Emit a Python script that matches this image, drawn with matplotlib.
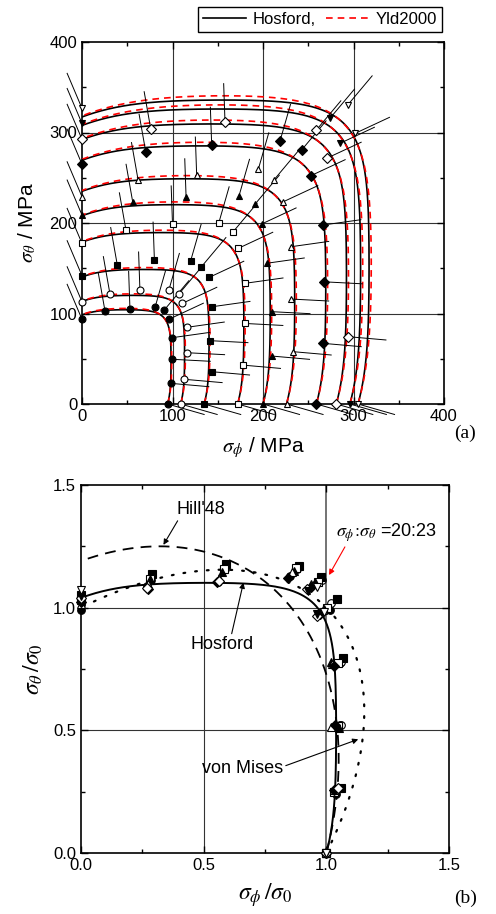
import numpy as np
import matplotlib
matplotlib.use('Agg')
import matplotlib.pyplot as plt
from matplotlib.lines import Line2D
from matplotlib.ticker import MultipleLocator

plt.rcParams['font.family'] = ['Liberation Sans', 'DejaVu Sans']
plt.rcParams['mathtext.fontset'] = 'stix'

# Niveles de trabajo plástico: tensión uniaxial sigma_0 (MPa) de cada nivel
niveles_s0 = [94.6, 109, 135, 172, 200, 226, 259, 281, 296, 305]

# Trayectorias de carga sigma_phi : sigma_theta
relaciones = ['0:1', '1:4', '1:2', '3:4', '20:23', '1:1', '4:3', '2:1', '4:1', '1:0']
# Ángulo (grados) de la dirección de deformación dibujada en cada trayectoria
angulos_def = [113, 100, 92, 74, 50, 25, 8, -3, -5, -16]

# Puntos experimentales por nivel (índice de trayectoria, sigma_phi, sigma_theta)
trayectorias = [
    [0, 1, 2, 3, 4, 5, 6, 7, 8, 9],
    [0, 1, 2, 3, 4, 5, 6, 7, 8, 9],
    [0, 1, 2, 3, 4, 5, 6, 7, 8, 9],
    [0, 1, 2, 3, 4, 5, 6, 7, 8, 9],
    [0, 1, 2, 3, 4, 5, 6, 7, 8, 9],
    [0, 1, 2, 3, 4, 5, 6, 7, 8, 9],
    [0, 1, 2, 3, 4, 5, 6, 7, 8, 9],
    [0, 1, 2, 4, 5, 8, 9],
    [0, 4, 5, 9],
    [0, 4, 5, 9],
]
puntos_phi = [
    [0, 25.4, 53, 80.7, 91, 96, 99.8, 99.8, 98.3, 94.6],
    [0, 30.9, 64, 96, 107, 110.9, 115.6, 115.6, 113, 109],
    [0, 39, 80, 120, 132, 140.7, 144, 141.4, 143.3, 135],
    [0, 48.6, 100, 151, 166.5, 172.7, 180.5, 180, 177.5, 172],
    [0, 56, 115, 173.5, 191, 198.5, 204, 210, 209.6, 200],
    [0, 62, 126.7, 194.8, 212, 222.5, 231, 230.6, 233.5, 226],
    [0, 70.4, 143.3, 218.8, 242.7, 252.7, 266.6, 267.8, 266.7, 259],
    [0, 76, 158, 259, 270.4, 294, 281],
    [0, 274, 285, 296],
    [0, 293.6, 301.7, 305],
]
puntos_theta = [
    [93.6, 102.8, 104.6, 106.8, 104, 93.6, 73.3, 49.4, 22.8, 0],
    [113, 121.5, 126, 126, 121.5, 111.2, 84.7, 56.7, 27.3, 0],
    [141.8, 153.6, 159, 158, 151.7, 140, 107.5, 70, 35.7, 0],
    [177.5, 192, 199, 199.6, 189.7, 172, 133.4, 89, 43, 0],
    [208.8, 223.5, 229, 230, 220.6, 198.9, 155.5, 102, 53, 0],
    [229, 247.5, 253, 259.3, 247.5, 223.5, 173.8, 116, 57.8, 0],
    [265, 278.8, 286, 290.6, 280.7, 252.2, 197.8, 135, 67, 0],
    [292.5, 303.7, 312, 302.8, 271.5, 74.4, 0],
    [310, 315.7, 288, 0],
    [326.7, 330.4, 299, 0],
]

marcadores = ['o', 'o', 's', 's', '^', '^', 'D', 'D', 'v', 'v']
rellenos = ['k', 'w', 'k', 'w', 'k', 'w', 'k', 'w', 'k', 'w']

# Parámetros de los modelos (normalizados con sigma_0)
hosford = dict(F=0.459, G=0.728, H=0.272, a=8)
yld2000 = dict(F=0.455, G=0.715, H=0.285, a=7)
hill48 = dict(b=0.706, c=0.514)


def radio_hosford(t, F, G, H, a):
    """Radio de la superficie de fluencia de Hosford en la dirección t"""
    c, s = np.cos(t), np.sin(t)
    f = F * s ** a + G * c ** a + H * np.abs(c - s) ** a
    return f ** (-1.0 / a)


def radio_cuadratico(t, b, c):
    """Hill'48 (von Mises con b=1, c=1)"""
    co, si = np.cos(t), np.sin(t)
    return (co ** 2 - c * co * si + b * si ** 2) ** -0.5


def estilo_ejes(ax, mayor, menor):
    ax.xaxis.set_major_locator(MultipleLocator(mayor))
    ax.yaxis.set_major_locator(MultipleLocator(mayor))
    ax.xaxis.set_minor_locator(MultipleLocator(menor))
    ax.yaxis.set_minor_locator(MultipleLocator(menor))
    ax.tick_params(which='both', direction='in', top=True, right=True,
                   labelsize=12, width=1.0)
    ax.tick_params(which='major', length=5)
    ax.tick_params(which='minor', length=3)
    for sp in ax.spines.values():
        sp.set_linewidth(1.2)


t = np.linspace(0, np.pi / 2, 500)

fig = plt.figure(figsize=(4.96, 9.14), dpi=100)

# ---------------- (a) ----------------
ax1 = fig.add_axes([82 / 496, 1 - 404 / 914, 362 / 496, 362 / 914])
ax1.set_xlim(0, 400)
ax1.set_ylim(0, 400)
for v in (100, 200, 300):
    ax1.axvline(v, color='0.2', lw=0.8, zorder=1)
    ax1.axhline(v, color='0.2', lw=0.8, zorder=1)

r_h = radio_hosford(t, **hosford)
r_y = radio_hosford(t, **yld2000)
for s0 in niveles_s0:
    ax1.plot(s0 * r_h * np.cos(t), s0 * r_h * np.sin(t), color='k', lw=1.2, zorder=3)
    ax1.plot(s0 * r_y * np.cos(t), s0 * r_y * np.sin(t), color='red', lw=1.2,
             dashes=(4, 3), zorder=3)

L = 42
for i in range(len(niveles_s0)):
    for j, x, y in zip(trayectorias[i], puntos_phi[i], puntos_theta[i]):
        ang = np.radians(angulos_def[j])
        ax1.plot([x, x + L * np.cos(ang)], [y, y + L * np.sin(ang)], color='k',
                 lw=0.7, clip_on=False, zorder=4)
    ms = 5 if marcadores[i] != 'D' else 4.6
    ax1.plot(puntos_phi[i], puntos_theta[i], ls='none', marker=marcadores[i], ms=ms,
             mfc=rellenos[i], mec='k', mew=0.8, clip_on=False, zorder=5)

estilo_ejes(ax1, 100, 50)
ax1.set_xlabel(r'$\sigma_\phi$ / MPa', fontsize=15, labelpad=8)
ax1.set_ylabel(r'$\sigma_\theta$ / MPa', fontsize=15, labelpad=8)
fig.text(465 / 496, 1 - 433 / 914, '(a)', family='Liberation Serif', fontsize=14,
         ha='center', va='center')

manejadores = [Line2D([], [], color='k', lw=1.2),
               Line2D([], [], color='red', lw=1.2, dashes=(4, 3))]
leg = fig.legend(manejadores, ['Hosford,', 'Yld2000'], ncol=2, loc='upper right',
                 bbox_to_anchor=(442 / 496, 1 - 7 / 914), fontsize=12,
                 fancybox=False, edgecolor='k', framealpha=1, borderpad=0.3,
                 handlelength=2.6, columnspacing=0.6, handletextpad=0.4,
                 borderaxespad=0)
leg.get_frame().set_linewidth(1.0)

# ---------------- (b) ----------------
ax2 = fig.add_axes([81 / 496, 1 - 853 / 914, 368 / 496, 368 / 914])
ax2.set_xlim(0, 1.5)
ax2.set_ylim(0, 1.5)
ax2.axvline(0.5, color='0.2', lw=0.8, zorder=1)
ax2.axvline(1.0, color='0.45', lw=1.4, zorder=1)
ax2.axhline(0.5, color='0.2', lw=0.8, zorder=1)
ax2.axhline(1.0, color='0.2', lw=0.8, zorder=1)

r_vm = radio_cuadratico(t, 1.0, 1.0)
r_hill = radio_cuadratico(t, **hill48)
ax2.plot(r_h * np.cos(t), r_h * np.sin(t), color='k', lw=1.4, zorder=3)
ax2.plot(r_hill * np.cos(t), r_hill * np.sin(t), color='k', lw=1.3, dashes=(6, 4), zorder=3)
ax2.plot(r_vm * np.cos(t), r_vm * np.sin(t), color='k', lw=1.6, dashes=(0.8, 4.5),
         dash_capstyle='round', zorder=3)

for i, s0 in enumerate(niveles_s0):
    xn = np.array(puntos_phi[i]) / s0
    yn = np.array(puntos_theta[i]) / s0
    ms = 5.5 if marcadores[i] != 'D' else 5
    ax2.plot(xn, yn, ls='none', marker=marcadores[i], ms=ms, mfc=rellenos[i], mec='k',
             mew=0.8, clip_on=False, zorder=5)

estilo_ejes(ax2, 0.5, 0.25)
ax2.xaxis.set_major_formatter(plt.FormatStrFormatter('%.1f'))
ax2.yaxis.set_major_formatter(plt.FormatStrFormatter('%.1f'))
ax2.set_xlabel(r'$\sigma_\phi\,/\sigma_0$', fontsize=17, labelpad=6)
ax2.set_ylabel(r'$\sigma_\theta\,/\sigma_0$', fontsize=17, labelpad=6)
fig.text(466 / 496, 1 - 898 / 914, '(b)', family='Liberation Serif', fontsize=14,
         ha='center', va='center')

flecha = dict(arrowstyle='-|>', color='k', lw=0.8, mutation_scale=8, shrinkA=0, shrinkB=0)
ax2.annotate("Hill'48", xy=(0.336, 1.256), xytext=(0.49, 1.40), fontsize=13,
             ha='center', va='center', arrowprops=dict(flecha, relpos=(0.05, 0.0)))
ax2.annotate('Hosford', xy=(0.662, 1.102), xytext=(0.573, 0.848), fontsize=13,
             ha='center', va='center', arrowprops=dict(flecha, relpos=(0.65, 1.0)))
ax2.annotate('von Mises', xy=(1.13, 0.4635), xytext=(0.658, 0.345), fontsize=13,
             ha='center', va='center', arrowprops=dict(flecha, relpos=(1.0, 0.6)))
ax2.annotate(r'$\sigma_\phi\!:\!\sigma_\theta$ =20:23', xy=(1.011, 1.133),
             xytext=(1.247, 1.305), fontsize=13, ha='center', va='center',
             arrowprops=dict(flecha, color='red', relpos=(0.1, 0.0)))

fig.savefig('out.png', dpi=100)
